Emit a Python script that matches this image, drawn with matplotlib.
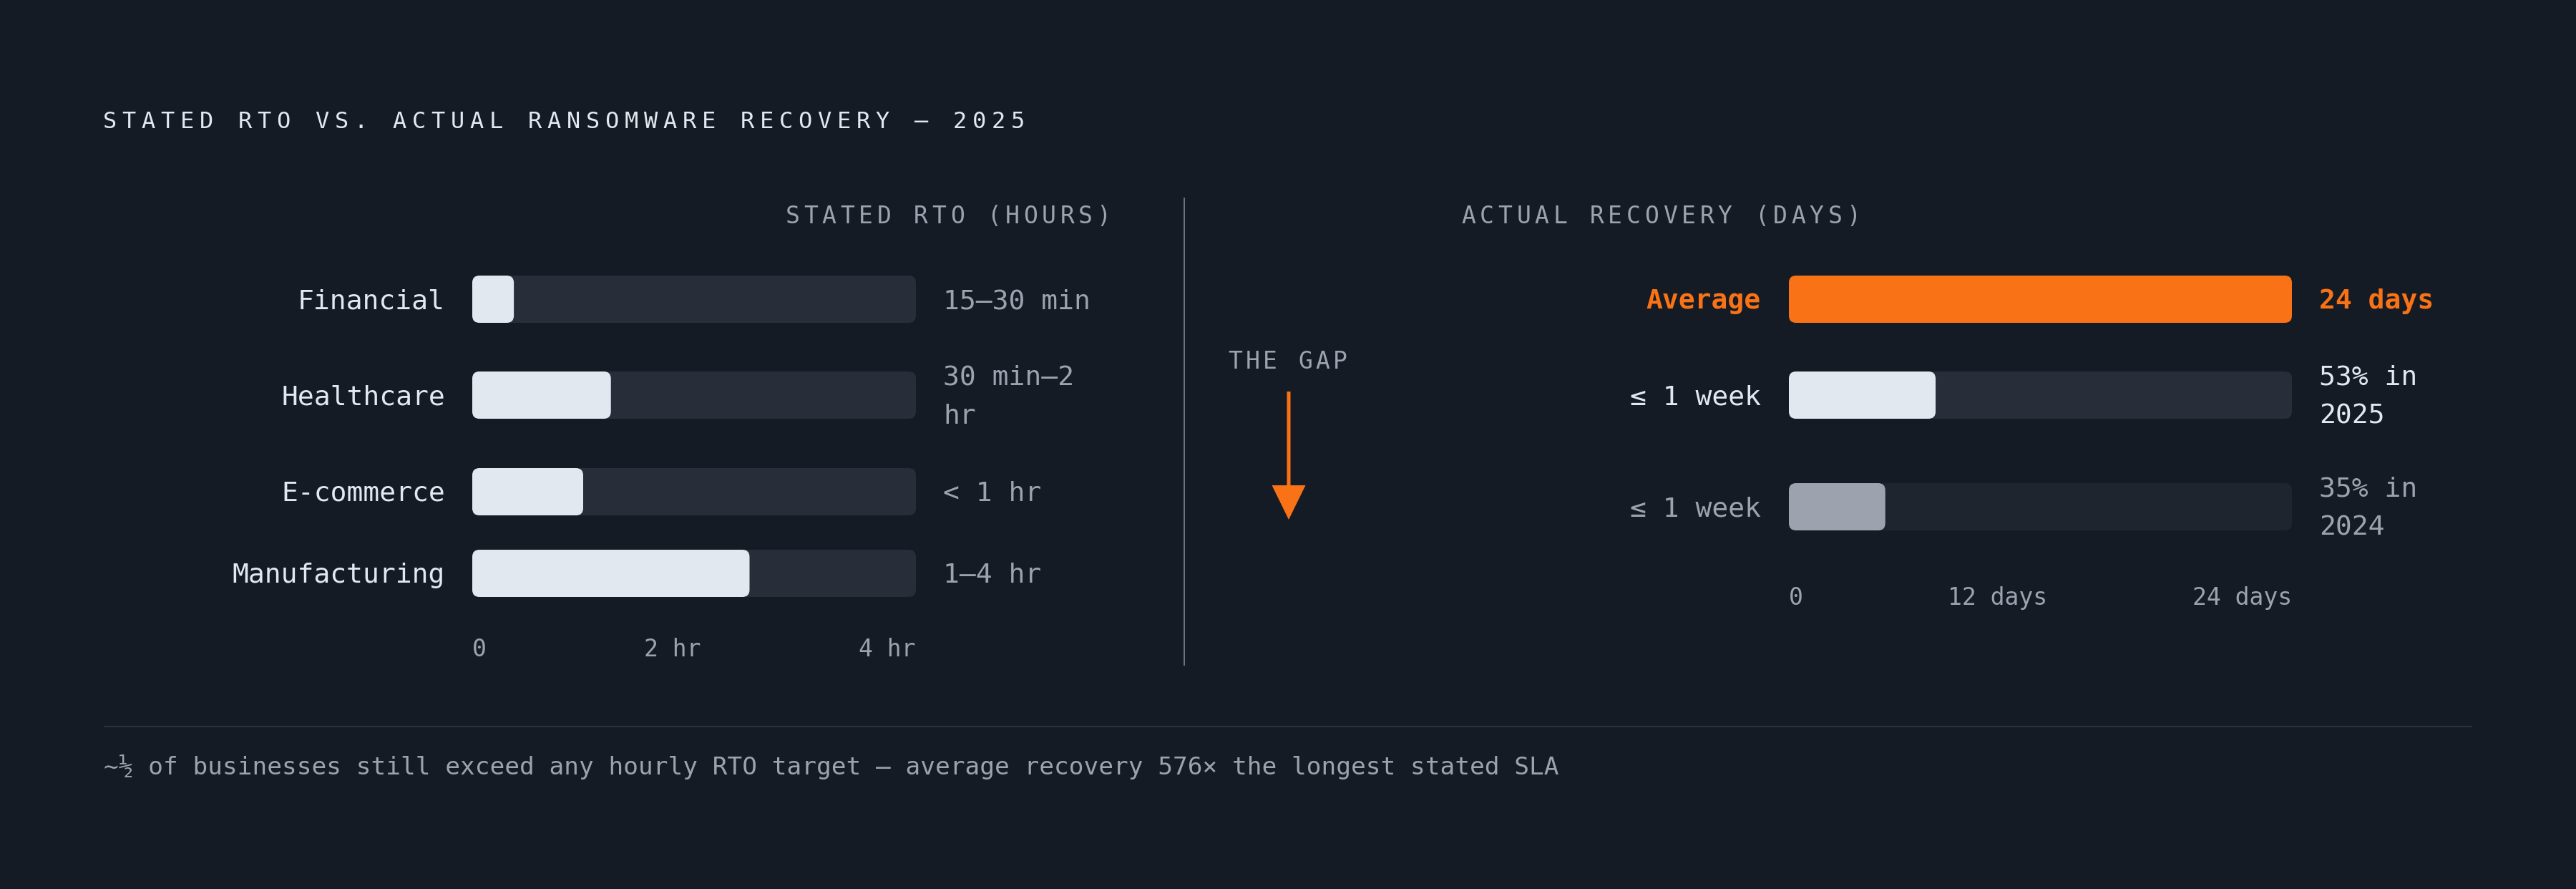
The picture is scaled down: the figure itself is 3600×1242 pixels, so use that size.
import textwrap
import matplotlib
matplotlib.use("Agg")
import matplotlib.pyplot as plt
from matplotlib.patches import FancyBboxPatch, FancyArrow

# ---------------- data ----------------
title = "STATED RTO VS. ACTUAL RANSOMWARE RECOVERY — 2025"
left_header = "STATED RTO (HOURS)"
right_header = "ACTUAL RECOVERY (DAYS)"
gap_label = "THE GAP"
footer = ("~½ of businesses still exceed any hourly RTO target — "
          "average recovery 576× the longest stated SLA")

rto_categories = ["Financial", "Healthcare", "E-commerce", "Manufacturing"]
rto_hours = [0.375, 1.25, 1.0, 2.5]
rto_labels = ["15–30 min", "30 min–2 hr", "< 1 hr", "1–4 hr"]
rto_ticks = ["0", "2 hr", "4 hr"]
rto_max = 4

rec_categories = ["Average", "≤ 1 week", "≤ 1 week"]
rec_days = [24, 7.0, 4.6]
rec_labels = ["24 days", "53% in 2025", "35% in 2024"]
rec_ticks = ["0", "12 days", "24 days"]
rec_max = 24

# ---------------- style ----------------
FONT = ["DejaVu Sans Mono", "DejaVu Sans"]
BG = "#151b24"
TEXT = "#e2e8f0"
MUTED = "#9ca3af"
TRACK = "#272e39"
TRACK_DIM = "#1f252e"
ORANGE = "#f97316"
FILL = "#e2e8f0"
RULE = "#2b323d"
DIVIDER = "#6b7280"

W, H = 3600, 1242
PT = 0.72  # px -> pt at dpi 100

plt.rcParams["font.family"] = FONT

fig = plt.figure(figsize=(W / 100, H / 100), dpi=100, facecolor=BG)


def bar_axes(x0, x1, xmax):
    ax = fig.add_axes([x0 / W, 0, (x1 - x0) / W, 1])
    ax.set_xlim(0, xmax)
    ax.set_ylim(H, 0)
    ax.axis("off")
    return ax


def rbar(ax, left, yc, width, height, color, r_px=10):
    x0, x1 = ax.get_xlim()
    px_w = ax.get_position().width * W
    xdpp = (x1 - x0) / px_w
    aspect = 1.0 / xdpp
    p = FancyBboxPatch((left, yc - height / 2), width, height,
                       boxstyle=f"round,pad=0,rounding_size={r_px * xdpp}",
                       mutation_aspect=aspect, fc=color, ec="none", lw=0)
    ax.add_patch(p)


# overlay axes in pixel coordinates for text / rules
ov = fig.add_axes([0, 0, 1, 1])
ov.set_xlim(0, W)
ov.set_ylim(H, 0)
ov.axis("off")


def spaced(x_left, baseline, s, pitch, fs_px, color):
    adv = 0.602 * fs_px
    for i, ch in enumerate(s):
        if ch == " ":
            continue
        ov.text(x_left + i * pitch + adv / 2, baseline, ch, ha="center",
                va="baseline", fontsize=fs_px * PT, color=color, family=FONT)


def multiline(x, yc, s, color, ha="left", weight="normal", fs_px=38, width=10):
    lines = textwrap.wrap(s, width)
    n = len(lines)
    for i, ln in enumerate(lines):
        y = yc + 13 + (i - (n - 1) / 2) * 54
        ov.text(x, y, ln, ha=ha, va="baseline", fontsize=fs_px * PT,
                color=color, fontweight=weight, family=FONT)


def spread_ticks(x0, x1, baseline, labels, charw=20, fs_px=33):
    widths = [len(t) * charw for t in labels]
    gap = (x1 - x0 - sum(widths)) / (len(labels) - 1)
    x = x0
    last = len(labels) - 1
    for i, (t, w) in enumerate(zip(labels, widths)):
        if i == 0:
            xp, ha = x0, "left"
        elif i == last:
            xp, ha = x1, "right"
        else:
            xp, ha = x + w / 2, "center"
        ov.text(xp, baseline, t, ha=ha, va="baseline", fontsize=fs_px * PT,
                color=MUTED, family=FONT)
        x += w + gap


# ---------------- title ----------------
spaced(143.5, 179, title, 27.0, 32, TEXT)

# ---------------- left panel ----------------
L_X0, L_X1 = 660, 1280
left_rows = [418, 552, 687, 801]
BAR_H = 66
axL = bar_axes(L_X0, L_X1, rto_max)
spaced(1097.5, 311.5, left_header, 25.6, 33, MUTED)
for cat, val, lab, yc in zip(rto_categories, rto_hours, rto_labels, left_rows):
    rbar(axL, 0, yc, rto_max, BAR_H, TRACK)
    rbar(axL, 0, yc, val, BAR_H, FILL)
    multiline(622, yc, cat, TEXT, ha="right", width=30)
    multiline(1318, yc, lab, MUTED)
spread_ticks(L_X0, L_X1, 917, rto_ticks)

# ---------------- divider + gap ----------------
ov.plot([1655, 1655], [276, 930], color=DIVIDER, lw=2 * PT, solid_capstyle="butt")
spaced(1716, 515, gap_label, 24.5, 33, MUTED)
ov.add_patch(FancyArrow(1801, 547, 0, 179, width=5, head_width=47,
                        head_length=48, length_includes_head=True,
                        fc=ORANGE, ec="none", lw=0))

# ---------------- right panel ----------------
R_X0, R_X1 = 2500, 3203
right_rows = [418, 552, 708]
axR = bar_axes(R_X0, R_X1, rec_max)
spaced(2042.5, 311.5, right_header, 25.6, 33, MUTED)
fill_colors = [ORANGE, FILL, MUTED]
track_colors = [TRACK, TRACK, TRACK_DIM]
label_colors = [ORANGE, TEXT, MUTED]
weights = ["bold", "normal", "normal"]
for i, (cat, val, lab, yc) in enumerate(zip(rec_categories, rec_days, rec_labels, right_rows)):
    rbar(axR, 0, yc, rec_max, BAR_H, track_colors[i])
    rbar(axR, 0, yc, val, BAR_H, fill_colors[i])
    multiline(2461, yc, cat, label_colors[i], ha="right", weight=weights[i], width=30)
    multiline(3241, yc, lab, label_colors[i], weight=weights[i])
spread_ticks(R_X0, R_X1, 845, rec_ticks)

# ---------------- footer ----------------
ov.plot([145, 3455], [1015, 1015], color=RULE, lw=2 * PT, solid_capstyle="butt")
ov.text(145, 1082, footer, ha="left", va="baseline", fontsize=34.4 * PT,
        color=MUTED, family=FONT)

fig.savefig("out.png", dpi=100, facecolor=BG)
